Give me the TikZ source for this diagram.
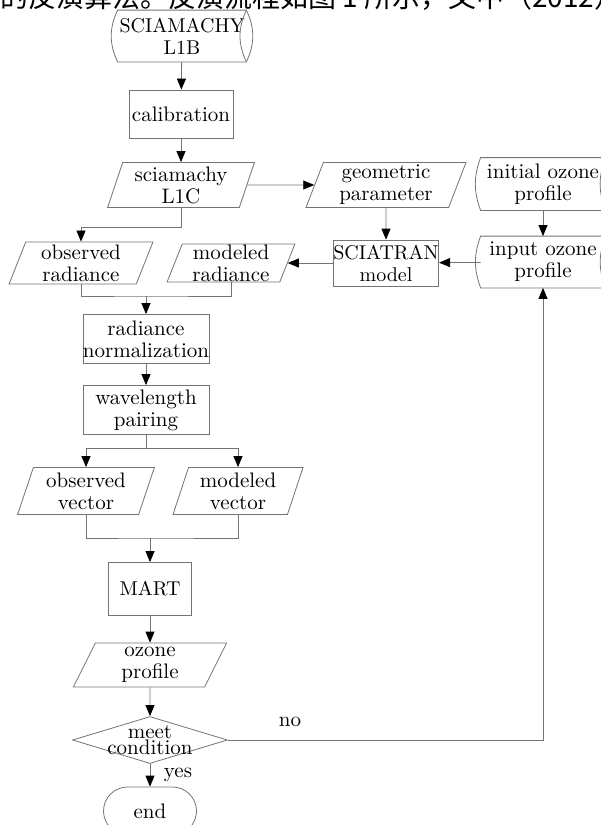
\documentclass[tikz,border=0pt]{standalone}
\usepackage{fontspec}
\setmainfont{lmroman10-regular.otf}[BoldFont=lmroman10-bold.otf]
\newfontfamily\cjk{Noto Sans CJK SC}
\usepackage{tikz}
\usetikzlibrary{shapes.geometric}
\usetikzlibrary{shapes.misc}
\usetikzlibrary{arrows.meta}
\colorlet{lgray}{black!55}
\tikzstyle{cell} = [draw=lgray, line width=0.8pt, align=center, inner sep=0pt, text=black, font=\fontsize{21}{22}\selectfont]
\tikzstyle{capsfont} = [font=\fontsize{20}{22}\selectfont]
\tikzstyle{proccell} = [cell, rectangle]
\tikzstyle{iocell} = [cell, trapezium, trapezium left angle=72, trapezium right angle=108, trapezium stretches=true]
\tikzstyle{storecell} = [cell, rectangle, draw=none]
\tikzstyle{askcell} = [cell, diamond]
\tikzstyle{stopcell} = [cell, rounded rectangle]
\tikzstyle{arr} = [draw=lgray, line width=0.8pt, -{Triangle[length=11pt, width=9pt, color=black]}]
\tikzstyle{lnk} = [draw=lgray, line width=0.8pt]

\begin{document}
\begin{tikzpicture}[x=1pt, y=-1pt]
\useasboundingbox (0, 0) rectangle (601, 825);
\clip (0, 0) rectangle (601, 825);
% running text of the page, cut off at the top
\node[anchor=base west, inner sep=0pt, font=\cjk\fontsize{28}{28}\selectfont] (head) at (0, 7) {的反演算法。反演流程如图 1 所示，文中（2012）};
% Main column
\node[storecell, capsfont, minimum width=128, minimum height=51] (l1b) at (182, 36) {SCIAMACHY\\L1B};
\node[proccell, minimum width=104, minimum height=48] (calib) at (181, 114) {calibration};
\node[iocell, minimum width=147, minimum height=45] (l1c) at (181, 185) {sciamachy\\L1C};
% Forward model
\node[iocell, minimum width=160, minimum height=45] (geom) at (386, 185) {geometric\\parameter};
\node[storecell, minimum width=124, minimum height=52] (initp) at (543, 184) {initial ozone\\profile};
\node[storecell, minimum width=124, minimum height=51] (inputp) at (543, 262) {input ozone\\profile};
\node[proccell, capsfont, minimum width=105, minimum height=46] (sciat) at (386, 263) {SCIATRAN\\model};
% Radiances
\node[iocell, minimum width=144, minimum height=42] (obsrad) at (81, 263) {observed\\radiance};
\node[iocell, minimum width=128, minimum height=38] (modrad) at (231, 263) {modeled\\radiance};
\node[proccell, minimum width=126, minimum height=49] (norm) at (146, 339) {radiance\\normalization};
\node[proccell, minimum width=126, minimum height=49] (pair) at (146, 410) {wavelength\\pairing};
% Vectors
\node[iocell, minimum width=137, minimum height=47] (obsvec) at (86, 491) {observed\\vector};
\node[iocell, minimum width=131, minimum height=47] (modvec) at (238, 491) {modeled\\vector};
% Retrieval
\node[proccell, capsfont, minimum width=83, minimum height=53] (mart) at (150, 589) {MART};
\node[iocell, minimum width=154, minimum height=44] (ozone) at (150, 665) {ozone\\profile};
\node[askcell, minimum width=155, minimum height=47, label={[font=\fontsize{21}{16}\selectfont, align=center]center:meet\\condition}] (meet) at (150, 740) {};
\node[stopcell, minimum width=93, minimum height=48] (endn) at (150, 811) {end};
% drum border
\draw[lnk] (l1b.north west) to[bend right=25] (l1b.south west) -- (l1b.south east)
  to[bend right=25] (l1b.north east) -- cycle;
\draw[lnk] (l1b.south east) to[bend left=25] (l1b.north east);
% stored data borders
\foreach \n in {initp, inputp}
  \draw[lnk] (\n.north west) to[bend right=20] (\n.south west) -- (\n.south east)
    to[bend left=20] (\n.north east) -- cycle;
% junctions
\coordinate (mrg1) at (146, 296);
\coordinate (split) at (146, 448);
\coordinate (mrg2) at (150, 538);
% ARROWS
\draw[arr] (l1b) -- (calib);
\draw[arr] (calib) -- (l1c);
\draw[arr] (l1c) -- (geom);
\draw[arr] (geom) -- (sciat);
\draw[arr] (initp) -- (inputp);
\draw[arr] (inputp) -- (sciat);
\draw[arr] (sciat) -- (modrad);
\draw[arr] (l1c.south) -- ++(0, 19) -| (obsrad.north);
\draw[lnk] (obsrad.south) |- (mrg1) -| (modrad.south);
\draw[arr] (mrg1) -- (norm.north);
\draw[arr] (norm) -- (pair);
\draw[lnk] (pair.south) -- (split);
\draw[arr] (split) -| (obsvec.north);
\draw[arr] (split) -| (modvec.north);
\draw[lnk] (obsvec.south) |- (mrg2) -| (modvec.south);
\draw[arr] (mrg2) -- (mart.north);
\draw[arr] (mart) -- (ozone);
\draw[arr] (ozone) -- (meet);
\draw[arr] (meet) -- (endn);
\draw[arr] (meet.east) -| (inputp.south);
% branch labels
\node[font=\fontsize{21}{22}\selectfont] (nolab) at (290, 722) {no};
\node[font=\fontsize{21}{22}\selectfont] (yeslab) at (178, 775) {yes};
\end{tikzpicture}
\end{document}
